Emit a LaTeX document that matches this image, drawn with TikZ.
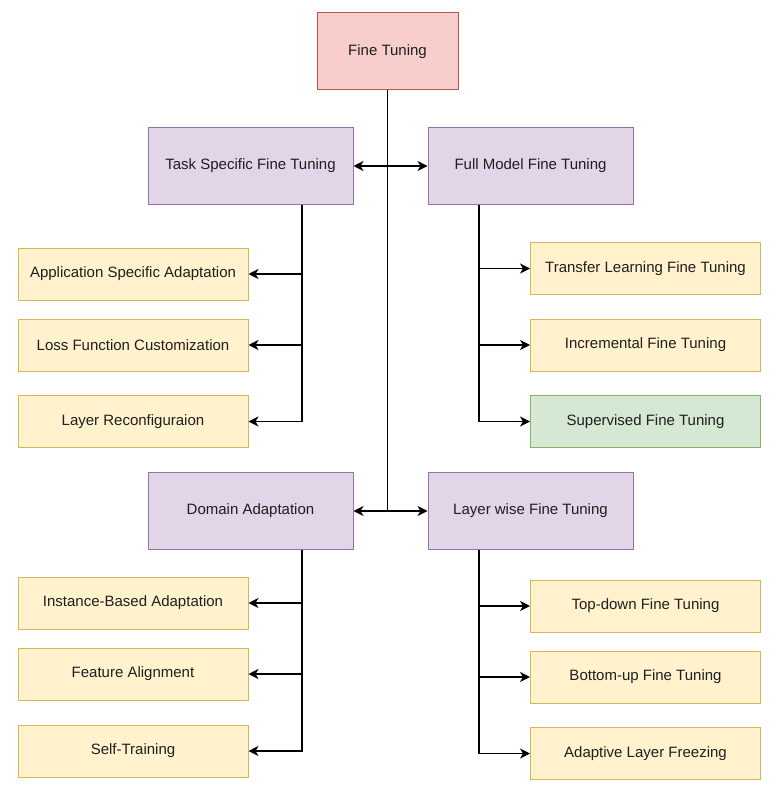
\documentclass[tikz,border=0pt]{standalone}
\usepackage{fontspec}
\setmainfont{Liberation Sans}
\usetikzlibrary{arrows.meta}
\definecolor{redfill}{HTML}{F8CECC}
\definecolor{redline}{HTML}{B85450}
\definecolor{purfill}{HTML}{E1D5E7}
\definecolor{purline}{HTML}{9673A6}
\definecolor{yelfill}{HTML}{FFF2CC}
\definecolor{yelline}{HTML}{D6B656}
\definecolor{grnfill}{HTML}{D5E8D4}
\definecolor{grnline}{HTML}{82B366}
\definecolor{txt}{HTML}{1F1F1F}
\begin{document}
\begin{tikzpicture}[x=1pt,y=-1pt,
  box/.style={draw, line width=1pt, inner sep=0pt, text=txt, font=\fontsize{15}{18}\selectfont},
  rootbox/.style={box, fill=redfill, draw=redline, minimum width=141pt, minimum height=77pt},
  midbox/.style={box, fill=purfill, draw=purline, minimum width=205pt, minimum height=77pt},
  leafbox/.style={box, fill=yelfill, draw=yelline, minimum width=230pt, minimum height=52pt},
  greenbox/.style={box, fill=grnfill, draw=grnline, minimum width=230pt, minimum height=52pt},
  conn/.style={line width=1.4pt, draw=black},
  tip/.tip={Stealth[length=10pt,width=10pt,inset=3pt]},
  arr/.style={conn, -tip},
  darr/.style={conn, tip-tip}
]
\useasboundingbox (0,0) rectangle (782,786);

\node[rootbox] (ft) at (387.5,51.5) {Fine Tuning};
\node[midbox] (task) at (250.5,166) {Task Specific Fine Tuning};
\node[midbox] (full) at (530.5,166) {Full Model Fine Tuning};
\node[midbox] (dom) at (250.5,511) {Domain Adaptation};
\node[midbox] (lw) at (530.5,511) {Layer wise Fine Tuning};

\node[leafbox] (app) at (133,274) {Application Specific Adaptation};
\node[leafbox] (loss) at (133,345) {Loss Function Customization};
\node[leafbox] (lrec) at (133,421.5) {Layer Reconfiguraion};

\node[leafbox] (trans) at (645.5,268.5) {Transfer Learning Fine Tuning};
\node[leafbox] (incr) at (645.5,345) {Incremental Fine Tuning};
\node[greenbox] (sup) at (645.5,421.5) {Supervised Fine Tuning};

\node[leafbox] (inst) at (133,603) {Instance-Based Adaptation};
\node[leafbox] (feat) at (133,674) {Feature Alignment};
\node[leafbox] (self) at (133,751) {Self-Training};

\node[leafbox] (topd) at (645.5,606) {Top-down Fine Tuning};
\node[leafbox] (botu) at (645.5,677) {Bottom-up Fine Tuning};
\node[leafbox] (adap) at (645.5,753.5) {Adaptive Layer Freezing};

\coordinate (spine) at (387.5,511);
\draw[conn] (ft.south) -- (spine);
\draw[darr] (task.east) -- (full.west);
\draw[darr] (dom.east) -- (lw.west);

\draw[arr] ([xshift=51.5pt]task.south) |- (app.east);
\draw[arr] ([xshift=51.5pt]task.south) |- (loss.east);
\draw[arr] ([xshift=51.5pt]task.south) |- (lrec.east);

\draw[arr] ([xshift=-51.5pt]full.south) |- (trans.west);
\draw[arr] ([xshift=-51.5pt]full.south) |- (incr.west);
\draw[arr] ([xshift=-51.5pt]full.south) |- (sup.west);

\draw[arr] ([xshift=51.5pt]dom.south) |- (inst.east);
\draw[arr] ([xshift=51.5pt]dom.south) |- (feat.east);
\draw[arr] ([xshift=51.5pt]dom.south) |- (self.east);

\draw[arr] ([xshift=-51.5pt]lw.south) |- (topd.west);
\draw[arr] ([xshift=-51.5pt]lw.south) |- (botu.west);
\draw[arr] ([xshift=-51.5pt]lw.south) |- (adap.west);
\end{tikzpicture}
\end{document}
